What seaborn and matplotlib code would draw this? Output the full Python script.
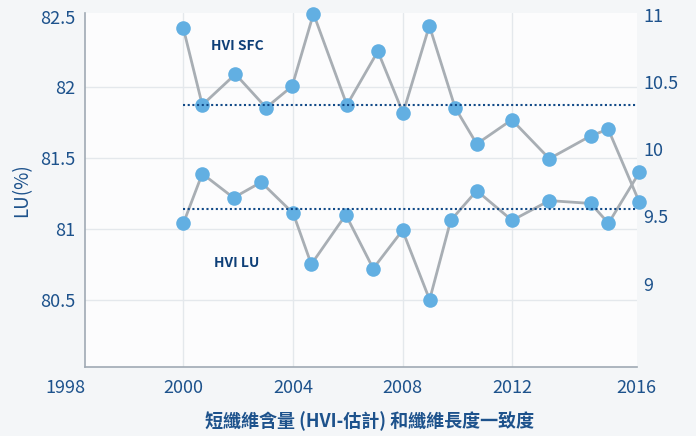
import matplotlib
matplotlib.use("Agg")
import matplotlib.pyplot as plt
import seaborn as sns
import pandas as pd

# ---- data ----
lu_years = [2000.00, 2000.69, 2001.83, 2002.84, 2004.01, 2004.67, 2005.93, 2006.93,
            2008.00, 2008.99, 2009.76, 2010.71, 2012.00, 2013.36, 2014.87, 2015.52, 2016.65]
lu_values = [81.04, 81.39, 81.22, 81.33, 81.11, 80.75, 81.10, 80.72,
             80.99, 80.50, 81.06, 81.27, 81.06, 81.20, 81.18, 81.04, 81.40]
sfc_years = [2000.00, 2000.69, 2001.90, 2003.02, 2003.97, 2004.75, 2005.97, 2007.10,
             2008.02, 2008.98, 2009.92, 2010.71, 2011.99, 2013.36, 2014.87, 2015.51, 2016.64]
sfc_values = [10.90, 10.33, 10.56, 10.31, 10.47, 11.01, 10.33, 10.73,
              10.27, 10.92, 10.31, 10.04, 10.22, 9.93, 10.10, 10.15, 9.61]
lu_avg = 81.14
sfc_avg = 10.33

x_ticks = [2000, 2004, 2008, 2012]
x_edge_labels = ["1998", "2016"]
left_ticks = [80.5, 81, 81.5, 82, 82.5]
left_grid = [80.5, 81, 81.5, 82]
right_ticks = [9, 9.5, 10, 10.5, 11]
x_title = "短纖維含量 (HVI-估計) 和纖維長度一致度"
y_title = "LU(%)"
series_labels = ["HVI SFC", "HVI LU"]

lu_df = pd.DataFrame({"year": lu_years, "value": lu_values})
sfc_df = pd.DataFrame({"year": sfc_years, "value": sfc_values})

# ---- style ----
sns.set_theme(style="white")
plt.rcParams["font.family"] = ["Noto Sans CJK TC", "DejaVu Sans"]

FIG_BG = "#f4f6f8"
AX_BG = "#fcfcfd"
GRID = "#e4e8ec"
TEXT = "#1d528c"
DARK = "#0e3f78"
LINE = "#a8aeb4"
MARK = "#62afe2"
DOT = "#124a88"

fig = plt.figure(figsize=(6.96, 4.36), dpi=100, facecolor=FIG_BG)
ax = fig.add_axes([0.1226, 0.159, 0.9148 - 0.1226, 0.9695 - 0.159])
ax.set_facecolor(AX_BG)

xmin, xmax = 1996.42, 2016.55
ax.set_xlim(xmin, xmax)
ax.set_ylim(80.027, 82.523)

for g in left_grid:
    ax.axhline(g, color=GRID, lw=1.0, zorder=0)
for t in x_ticks:
    ax.axvline(t, color=GRID, lw=1.0, zorder=0)

line_kw = dict(color=LINE, linewidth=2.0, marker="o", markersize=10.5,
               markerfacecolor=MARK, markeredgecolor=MARK, markeredgewidth=0,
               clip_on=False, legend=False)

dot_kw = dict(color=DOT, lw=1.5, linestyle=(0, (1.0, 1.25)),
              dash_capstyle="butt", zorder=4)

sns.lineplot(data=lu_df, x="year", y="value", ax=ax, zorder=3, **line_kw)
ax.plot([2000, xmax], [lu_avg, lu_avg], **dot_kw)

ax2 = ax.twinx()
ax2.set_ylim(8.381, 11.013)
sns.lineplot(data=sfc_df, x="year", y="value", ax=ax2, zorder=3, **line_kw)
ax2.plot([2000, xmax], [sfc_avg, sfc_avg], **dot_kw)
ax2.set_xlim(xmin, xmax)

# ticks
ax.set_xticks([xmin] + x_ticks + [xmax])
ax.set_xticklabels([x_edge_labels[0]] + [str(t) for t in x_ticks] + [x_edge_labels[1]])
xt = ax.get_xticklabels()
xt[0].set_horizontalalignment("right")
ax.set_yticks(left_ticks)
ax.set_yticklabels([f"{v:g}" for v in left_ticks])
ax2.set_yticks(right_ticks)
ax2.set_yticklabels([f"{v:g}" for v in right_ticks])

ax.tick_params(axis="both", length=0, labelsize=13, labelcolor=TEXT)
ax.tick_params(axis="x", pad=9)
ax.tick_params(axis="y", pad=7)
ax2.tick_params(axis="y", length=0, labelsize=13, labelcolor=TEXT, pad=5)

for sp in ["top", "right"]:
    ax.spines[sp].set_visible(False)
for sp in ["top", "right", "left", "bottom"]:
    ax2.spines[sp].set_visible(False)
for sp in ["left", "bottom"]:
    ax.spines[sp].set_color("#a0aab4")
    ax.spines[sp].set_linewidth(1.2)

ax.set_xlabel(x_title, fontsize=13, color=TEXT, fontweight="semibold")
ax.xaxis.set_label_coords(0.515, -0.125)
ax.set_ylabel(y_title, fontsize=13.5, color=TEXT, fontweight="medium", labelpad=6)
ax2.set_ylabel("")
ax2.set_xlabel("")

ax.text(2001.97, 82.29, series_labels[0], fontsize=10, fontweight="heavy",
        color=DARK, ha="center", va="center", zorder=5)
ax.text(2001.95, 80.76, series_labels[1], fontsize=10, fontweight="heavy",
        color=DARK, ha="center", va="center", zorder=5)

fig.savefig("out.png", dpi=100, facecolor=FIG_BG)
